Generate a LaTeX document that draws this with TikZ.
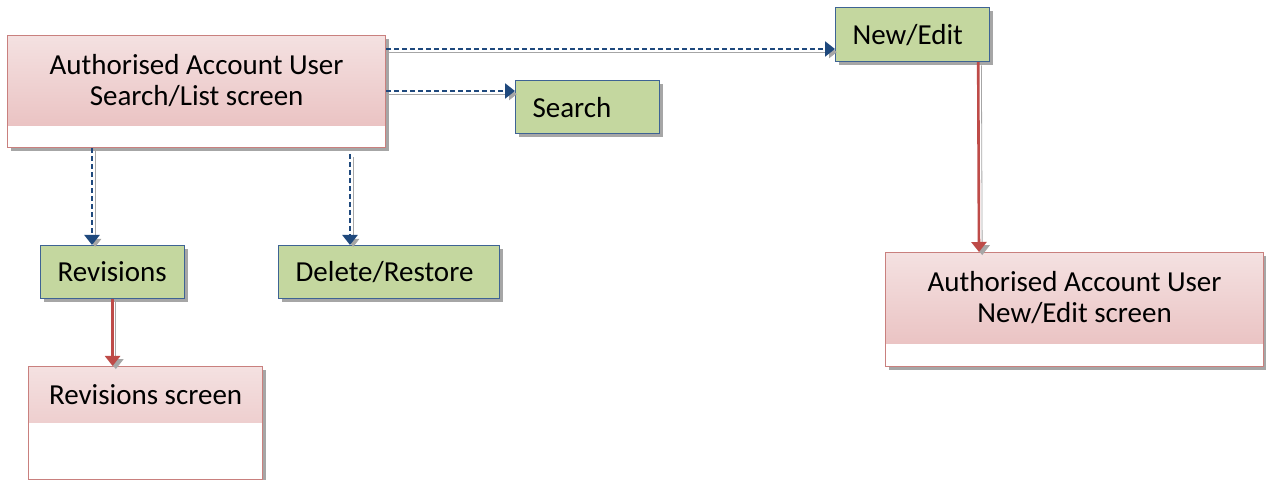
\documentclass[tikz,border=0pt]{standalone}
\usepackage{fontspec}
\setmainfont{Carlito}
\usetikzlibrary{arrows.meta, positioning, shadows}
\definecolor{scrline}{HTML}{C9807E}
\definecolor{scrtop}{HTML}{F4E1E1}
\definecolor{scrbot}{HTML}{E8BCBC}
\definecolor{actfill}{HTML}{C4D79F}
\definecolor{actline}{HTML}{3E6394}
\definecolor{flowblue}{HTML}{1F497D}
\definecolor{flowred}{HTML}{BE4B48}
\definecolor{shadowgray}{HTML}{A6A6A6}

\begin{document}
\begin{tikzpicture}[
    x=0.5pt, y=-0.5pt, >={Triangle[width=7.5pt,length=5pt]},
    font=\fontsize{14.5}{15.5}\selectfont,
    boxshadow/.style={drop shadow={shadow xshift=1.8pt, shadow yshift=-1.8pt,
                      fill=shadowgray, opacity=1}},
    scrbox/.style={draw=scrline, line width=0.6pt, fill=white, anchor=north west,
                   boxshadow,
                   path picture={\shade[top color=scrtop, bottom color=scrbot]
                     (path picture bounding box.north west) rectangle
                     ([yshift=#1]path picture bounding box.south east);}},
    scrtitle/.style={align=center, inner sep=0pt},
    act/.style={draw=actline, line width=0.6pt, fill=actfill, anchor=north west,
                align=left, inner xsep=8.5pt, inner ysep=0pt, minimum height=26.5pt,
                boxshadow},
    flow/.style={->, flowblue, line width=1.2pt, dash pattern=on 2.5pt off 1.5pt,
                 preaction={draw=shadowgray, transform canvas={shift={(1.6pt,-1.6pt)}}}},
    link/.style={->, flowred, line width=1.3pt,
                 preaction={draw=shadowgray, transform canvas={shift={(1.6pt,-1.6pt)}}}},
]
\useasboundingbox (0,0) rectangle (1266,480);

% screens
\node[scrbox=11pt, minimum width=189pt, minimum height=56pt] (list) at (7,35) {};
\node[scrtitle, minimum height=45pt, below=0pt of list.north] (listtitle)
   {Authorised Account User\\ Search/List screen};

\node[scrbox=28.5pt, minimum width=117pt, minimum height=56.5pt] (revscr) at (28,366) {};
\node[scrtitle, minimum height=28pt, below=0pt of revscr.north] (revtitle) {Revisions screen};

\node[scrbox=11.5pt, minimum width=189pt, minimum height=57pt] (editscr) at (885,252) {};
\node[scrtitle, minimum height=45.5pt, below=0pt of editscr.north] (edittitle)
   {Authorised Account User\\ New/Edit screen};

% actions
\node[act, text width=55pt] (search) at (515,80) {Search};
\node[act, text width=60pt, minimum height=27pt] (edit) at (835,7) {New/Edit};
\node[act, text width=55pt] (rev) at (40,245) {Revisions};
\node[act, text width=93.5pt] (del) at (278,245) {Delete/Restore};

% connectors
\coordinate (toedit) at ([yshift=-7pt]list.north east);
\coordinate (tosearch) at ([yshift=-28pt]list.north east);
\coordinate (torev) at ([xshift=42.5pt]list.south west);
\coordinate (todel) at ([xshift=171.5pt, yshift=-3pt]list.south west);

\draw[flow] (toedit) -- (toedit -| edit.west);
\draw[flow] (tosearch) -- (tosearch -| search.west);
\draw[flow] (torev) -- (torev |- rev.north);
\draw[flow] (todel) -- (todel |- del.north);

\draw[link] (rev.south) -- (rev.south |- revscr.north);
\draw[link] ([xshift=-6pt]edit.south east) -- ([xshift=47pt]editscr.north west);

\end{tikzpicture}
\end{document}
